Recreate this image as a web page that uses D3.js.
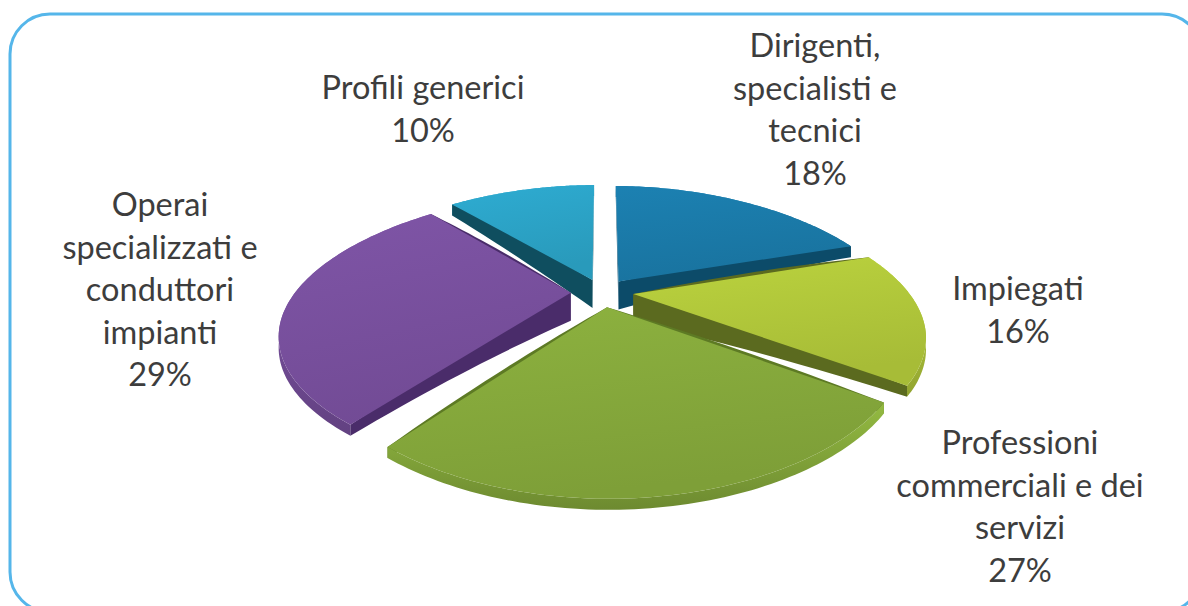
<!DOCTYPE html>
<html>
<head>
<meta charset="utf-8">
<script src="https://cdn.jsdelivr.net/npm/d3@7"></script>
<style>
  html, body { margin: 0; padding: 0; background: #fff; }
  svg { display: block; }
</style>
</head>
<body>
<div id="chart"></div>
<script>
// === Data ===
const categories = [
  "Dirigenti, specialisti e tecnici",
  "Impiegati",
  "Professioni commerciali e dei servizi",
  "Operai specializzati e conduttori impianti",
  "Profili generici"
];
const values = [18, 16, 27, 29, 10];
const labelLines = [
  ["Dirigenti,", "specialisti e", "tecnici"],
  ["Impiegati"],
  ["Professioni", "commerciali e dei", "servizi"],
  ["Operai", "specializzati e", "conduttori", "impianti"],
  ["Profili generici"]
];

// === Styles / layout ===
const topColors = ["#1b7cab", "#b3ca3b", "#87ab3c", "#7a51a0", "#2ca5c9"];
const sideColors = ["#0c4b69", "#5b6a1f", "#5d7a24", "#4a2c6a", "#0f4e5f"];
const labelPos = [
  [815, 57], [1018, 300], [1020, 454], [160, 216], [423, 99]
];
const lineH = 42.5;

const width = 1188, height = 606;
const svg = d3.select("#chart").append("svg")
  .attr("width", width).attr("height", height);

// rounded frame
svg.append("rect")
  .attr("x", 10).attr("y", 14)
  .attr("width", 1192).attr("height", 598)
  .attr("rx", 40).attr("ry", 40)
  .attr("fill", "none")
  .attr("stroke", "#55b6ea")
  .attr("stroke-width", 3);

// === projection of the pie disc (X right, Z far, h = drop in px) ===
const cx = 602, cy = 293;
const A = 285, kx = 0.2;   // horizontal radius + perspective
const B = 128, kz = 0.28;  // vertical radius + perspective
const sag = 12;
const hTip = 28, hRim = 11; // bevelled thickness: thick at centre, thin at rim
const explode = 0.11;

function proj(X, Z, h) {
  return [
    cx + A * X / (1 + kx * Z),
    cy - B * Z / (1 + kz * Z) + sag * X * X + (h || 0)
  ];
}

const pie = d3.pie().sort(null).value(d => d);
const arcs = pie(values);
const line = d3.line();
const color = d3.scaleOrdinal().domain(categories).range(topColors);
const side = d3.scaleOrdinal().domain(categories).range(sideColors);

const defs = svg.append("defs");
categories.forEach((c, i) => {
  const g = defs.append("linearGradient").attr("id", "g" + i)
    .attr("x1", 0).attr("y1", 0).attr("x2", 0.3).attr("y2", 1);
  g.append("stop").attr("offset", 0).attr("stop-color", d3.color(color(c)).brighter(0.12));
  g.append("stop").attr("offset", 1).attr("stop-color", d3.color(color(c)).darker(0.2));
  const w = defs.append("linearGradient").attr("id", "w" + i)
    .attr("x1", 0).attr("y1", 0).attr("x2", 0).attr("y2", 1);
  w.append("stop").attr("offset", 0).attr("stop-color", d3.color(color(c)).brighter(0.25));
  w.append("stop").attr("offset", 1).attr("stop-color", d3.color(color(c)).darker(0.6));
});

const walls = [];
const tops = [];
arcs.forEach((a, i) => {
  const cat = categories[i];
  const mid = (a.startAngle + a.endAngle) / 2;
  const ox = Math.sin(mid) * explode, oz = Math.cos(mid) * explode;
  const n = 80;
  const angs = d3.range(n + 1).map(k => a.startAngle + (a.endAngle - a.startAngle) * k / n);
  const rim = angs.map(t => [ox + Math.sin(t), oz + Math.cos(t)]);

  // top face
  const topPts = [proj(ox, oz), ...rim.map(p => proj(p[0], p[1]))];
  tops.push({ d: line(topPts) + "Z", fill: `url(#g${i})`, z: oz + Math.cos(mid) * 0.5 });

  // outer wall
  const wallPts = [...rim.map(p => proj(p[0], p[1])),
                   ...rim.slice().reverse().map(p => proj(p[0], p[1], hRim))];
  walls.push({ d: line(wallPts) + "Z", fill: `url(#w${i})`, z: oz + Math.cos(mid) });

  // radial faces, tapering from the tip to the rim
  [rim[0], rim[n]].forEach(p => {
    const steps = d3.range(21).map(k => k / 20);
    const upper = steps.map(s => proj(ox + (p[0] - ox) * s, oz + (p[1] - oz) * s));
    const lower = steps.map(s => proj(ox + (p[0] - ox) * s, oz + (p[1] - oz) * s,
                                      hTip + (hRim - hTip) * s));
    walls.push({ d: line([...upper, ...lower.reverse()]) + "Z", fill: side(cat), z: (oz + p[1]) / 2 });
  });
});

const pieG = svg.append("g");
walls.sort((a, b) => b.z - a.z).forEach(w => {
  pieG.append("path").attr("d", w.d).attr("fill", w.fill);
});
tops.sort((a, b) => b.z - a.z).forEach(t => {
  pieG.append("path").attr("d", t.d).attr("fill", t.fill);
});

// === Labels ===
const labels = svg.append("g")
  .attr("font-family", "Lato, 'Open Sans', sans-serif")
  .attr("font-size", "32.5px")
  .attr("fill", "#3d3d3d")
  .attr("text-anchor", "middle");

arcs.forEach((a, i) => {
  const lines = labelLines[i].concat([values[i] + "%"]);
  const t = labels.append("text");
  lines.forEach((s, k) => {
    t.append("tspan")
      .attr("x", labelPos[i][0])
      .attr("y", labelPos[i][1] + k * lineH)
      .text(s);
  });
});
</script>
</body>
</html>
